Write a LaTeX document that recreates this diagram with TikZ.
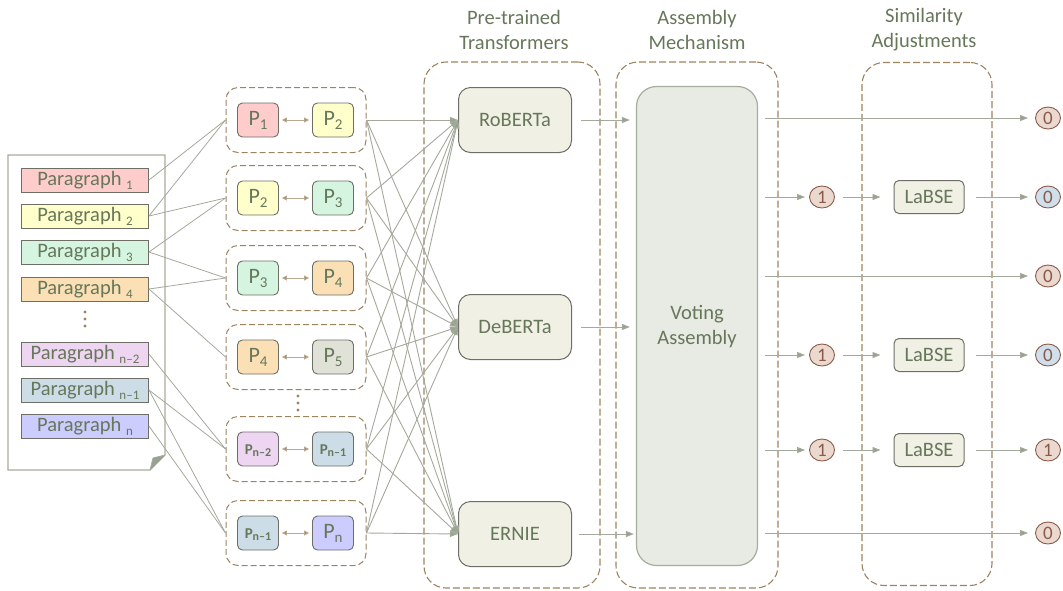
\documentclass[tikz,border=0pt]{standalone}
\usepackage{fontspec}
\setmainfont{Carlito}
\usetikzlibrary{arrows.meta,shapes.geometric}
\definecolor{txt}{HTML}{66775A}
\definecolor{dsh}{HTML}{9C8461}
\definecolor{ln}{HTML}{A3AA9B}
\definecolor{tip}{HTML}{97A38C}
\definecolor{bd}{HTML}{6E6E66}
\definecolor{cpink}{HTML}{FFCCCC}
\definecolor{cyel}{HTML}{FFFFCC}
\definecolor{cgrn}{HTML}{D5F5E0}
\definecolor{corg}{HTML}{FBE0B5}
\definecolor{cgry}{HTML}{E0E2D8}
\definecolor{clav}{HTML}{EED5F2}
\definecolor{cblu}{HTML}{CCDDE8}
\definecolor{cper}{HTML}{CCCCFF}
\definecolor{tfill}{HTML}{F0F0E4}
\definecolor{vfill}{HTML}{E8EAE4}
\definecolor{vbd}{HTML}{A5AE9C}
\definecolor{ofill}{HTML}{EBD9D0}
\definecolor{obd}{HTML}{8B5A4A}
\definecolor{otxt}{HTML}{8B5A4A}
\definecolor{obfill}{HTML}{CFE0EC}
\newcommand{\mysub}[1]{\raisebox{-0.45ex}{\fontsize{13}{13}\selectfont #1}}
\newcommand{\psub}[1]{\raisebox{-0.4ex}{\fontsize{15}{15}\selectfont #1}}
\newcommand{\smallP}[1]{{\fontsize{15}{15}\selectfont\bfseries P\raisebox{-0.3ex}{\fontsize{12}{12}\selectfont #1}}}
\begin{document}
\begin{tikzpicture}[x=1pt,y=-1pt,
  every node/.style={text=txt, font=\fontsize{20.5}{24}\selectfont},
  para/.style={draw=bd, line width=0.9, minimum width=127, minimum height=24, inner sep=0, text height=14pt, text depth=3pt},
  pbox/.style={draw=bd, line width=0.9, rounded corners=5, minimum width=41, minimum height=34, inner sep=0, font=\fontsize{22}{24}\selectfont, text height=15pt, text depth=3.5pt},
  grp/.style={draw=dsh, dashed, dash pattern=on 6pt off 3pt, line width=1, rounded corners=12, minimum width=140, minimum height=65, inner sep=0},
  cont/.style={draw=dsh, dash pattern=on 7pt off 3pt, line width=1.1, rounded corners=22, inner sep=0},
  tbox/.style={draw=bd, line width=1, fill=tfill, rounded corners=12, minimum width=113, minimum height=65, inner sep=0},
  lbox/.style={draw=bd, line width=1, fill=tfill, rounded corners=5, minimum width=70, minimum height=33, inner sep=0},
  outc/.style={ellipse, draw=obd, line width=0.9, fill=ofill, minimum width=25, minimum height=22, inner sep=0, text=otxt, font=\fontsize{19}{19}\selectfont},
  conn/.style={draw=ln, line width=0.8},
  arr/.style={draw=ln, line width=0.9, -{Triangle[length=8pt,width=6pt,fill=tip]}},
  darr/.style={draw=dsh!70, line width=0.9, {Triangle[length=5pt,width=5pt,fill=dsh]}-{Triangle[length=5pt,width=5pt,fill=dsh]}},
  ttl/.style={align=center, font=\fontsize{20.5}{25}\selectfont}
]
\useasboundingbox (0,0) rectangle (1063,590);

% containers
\node[cont, minimum width=176, minimum height=526] (ct) at (512,325) {};
\node[cont, minimum width=162, minimum height=526] (ca) at (697,325) {};
\node[cont, minimum width=130, minimum height=523] (cs) at (927,324) {};
\node[ttl] (tt) at (514,30) {Pre-trained\\Transformers};
\node[ttl] (ta) at (697,30) {Assembly\\Mechanism};
\node[ttl] (ts) at (924,30) {Similarity\\Adjustments};

% document
\draw[draw=vbd, line width=1.2, fill=white] (8,155) -- (165,155) -- (165,455) -- (150,470) -- (8,470) -- cycle;
\fill[vbd!70!gray] (150,470) -- (153,458) -- (165,455) -- cycle;
\draw[draw=vbd, line width=0.8] (150,470) -- (153,458) -- (165,455);

\node[para, fill=cpink] (p1) at (85,180) {Paragraph \mysub{1}};
\node[para, fill=cyel] (p2) at (85,216) {Paragraph \mysub{2}};
\node[para, fill=cgrn] (p3) at (85,252) {Paragraph \mysub{3}};
\node[para, fill=corg] (p4) at (85,289) {Paragraph \mysub{4}};
\node[para, fill=clav] (pa) at (85,354) {Paragraph \mysub{n–2}};
\node[para, fill=cblu] (pb) at (85,390) {Paragraph \mysub{n–1}};
\node[para, fill=cper] (pc) at (85,426) {Paragraph \mysub{n}};
\foreach \yy in {312,319,326} \fill[dsh] (85,\yy) circle (1.6);

% pair groups
\node[grp] (g1) at (296,120) {};
\node[grp] (g2) at (296,198) {};
\node[grp] (g3) at (296,278) {};
\node[grp] (g4) at (296,357) {};
\node[grp] (g5) at (296,449) {};
\node[grp] (g6) at (296,533) {};
\foreach \yy in {396,403,410} \fill[dsh] (298,\yy) circle (1.6);

\node[pbox, fill=cpink] (a1) at (258,120) {P\psub{1}};
\node[pbox, fill=cyel] (b1) at (333,120) {P\psub{2}};
\node[pbox, fill=cyel] (a2) at (258,198) {P\psub{2}};
\node[pbox, fill=cgrn] (b2) at (333,198) {P\psub{3}};
\node[pbox, fill=cgrn] (a3) at (258,278) {P\psub{3}};
\node[pbox, fill=corg] (b3) at (333,278) {P\psub{4}};
\node[pbox, fill=corg] (a4) at (258,357) {P\psub{4}};
\node[pbox, fill=cgry] (b4) at (333,357) {P\psub{5}};
\node[pbox, fill=clav] (a5) at (258,449) {\smallP{n–2}};
\node[pbox, fill=cblu] (b5) at (333,449) {\smallP{n–1}};
\node[pbox, fill=cblu] (a6) at (258,533) {\smallP{n–1}};
\node[pbox, fill=cper] (b6) at (333,533) {P\psub{n}};
\foreach \i in {1,...,6} \draw[darr] ([xshift=3]a\i.east) -- ([xshift=-3]b\i.west);

% paragraph -> groups
\draw[conn] (p1.east) -- (g1.west);
\draw[conn] (p2.east) -- (g1.west);
\draw[conn] (p2.east) -- (g2.west);
\draw[conn] (p3.east) -- (g2.west);
\draw[conn] (p3.east) -- (g3.west);
\draw[conn] (p4.east) -- (g3.west);
\draw[conn] (p4.east) -- (g4.west);
\draw[conn] (pa.east) -- (g5.west);
\draw[conn] (pb.east) -- (g5.west);
\draw[conn] (pb.east) -- (g6.west);
\draw[conn] (pc.east) -- (g6.west);

% transformers
\node[tbox] (rob) at (515,120) {RoBERTa};
\node[tbox] (deb) at (515,327) {DeBERTa};
\node[tbox] (ern) at (515,534) {ERNIE};
\foreach \i in {1,...,6} {
  \draw[arr] (g\i.east) -- (rob.west);
  \draw[arr] (g\i.east) -- (deb.west);
  \draw[arr] (g\i.east) -- (ern.west);
}

% voting
\node[draw=vbd, line width=1.2, fill=vfill, rounded corners=20, minimum width=121, minimum height=479, inner sep=0] (vote) at (697,326) {};
\node[align=center, font=\fontsize{20.5}{25}\selectfont] (vt) at (697,327) {Voting\\Assembly};
\draw[arr, shorten <=9pt, shorten >=6pt] (rob.east) -- (rob.east -| vote.west);
\draw[arr, shorten <=9pt, shorten >=6pt] (deb.east) -- (deb.east -| vote.west);
\draw[arr, shorten <=7pt, shorten >=2pt] (ern.east) -- (ern.east -| vote.west);

% outputs
\node[outc] (o1) at (1048,118) {0};
\node[outc, fill=obfill] (o2) at (1048,197) {0};
\node[outc] (o3) at (1048,276) {0};
\node[outc, fill=obfill] (o4) at (1048,355) {0};
\node[outc] (o5) at (1048,450) {1};
\node[outc] (o6) at (1048,533) {0};

\node[outc] (m2) at (822,197) {1};
\node[outc] (m4) at (822,355) {1};
\node[outc] (m5) at (822,450) {1};

\node[lbox] (l2) at (929,197) {LaBSE};
\node[lbox] (l4) at (929,355) {LaBSE};
\node[lbox] (l5) at (929,450) {LaBSE};

\draw[arr, shorten <=7pt, shorten >=7pt] (vote.east |- o1) -- (o1.west);
\draw[arr, shorten <=7pt, shorten >=7pt] (vote.east |- o3) -- (o3.west);
\draw[arr, shorten <=7pt, shorten >=7pt] (vote.east |- o6) -- (o6.west);
\foreach \i in {2,4,5} {
  \draw[arr, shorten <=7pt, shorten >=4pt] (vote.east |- m\i) -- (m\i.west);
  \draw[arr, shorten <=8pt, shorten >=13pt] (m\i.east) -- (l\i.west);
  \draw[arr, shorten <=11pt, shorten >=7pt] (l\i.east) -- (o\i.west);
}
\end{tikzpicture}
\end{document}
